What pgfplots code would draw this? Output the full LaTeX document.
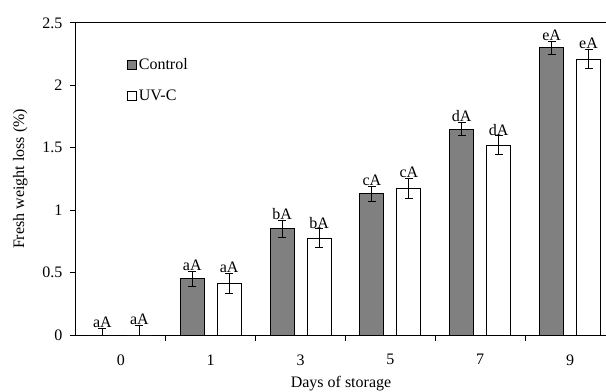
\documentclass[border=0pt]{standalone}
\usepackage{pgfplots}
\pgfplotsset{compat=1.18}
\usepackage{fontspec}
\setmainfont{Liberation Serif}
\definecolor{ctrl}{HTML}{808080}
\begin{document}
\begin{tikzpicture}
\begin{axis}[
  scale only axis, width=530bp, height=312bp,
  xmin=-0.5, xmax=5.4, ymin=0, ymax=2.5,
  axis x line=box, axis y line=left, axis line style={-, line width=1bp},
  xtick pos=bottom, ytick pos=left,
  tick align=outside,
  xtick={0,1,2,3,4,5}, xticklabels={0,1,3,5,7,9},
  minor xtick={0.5,1.5,2.5,3.5,4.5},
  major x tick style={draw=none},
  minor tick length=6bp, major tick length=6bp,
  tick style={black, line width=1bp},
  ytick={0,0.5,1,1.5,2,2.5},
  yticklabels={0,0.5,1,1.5,2,2.5},
  /pgf/number format/assume math mode=true,
  ticklabel style={font=\fontsize{16bp}{18bp}\selectfont},
  xticklabel style={yshift=-10bp},
  yticklabel style={xshift=-4bp},
  xlabel={Days of storage}, ylabel={Fresh weight loss (\%)},
  label style={font=\fontsize{16bp}{18bp}\selectfont},
  xlabel style={yshift=-4bp},
  ylabel style={yshift=8bp},
  legend style={at={(0.095,0.893)}, anchor=north west, draw=none, fill=none,
    font=\fontsize{16bp}{18bp}\selectfont, row sep=15bp, inner sep=0pt,
    legend cell align=left},
  legend image code/.code={\draw[#1, line width=0.8bp] (0bp,-4.5bp) rectangle (9bp,4.5bp);},
  every axis legend/.append style={nodes={inner xsep=2.5bp}},
]
\addplot[ybar, bar width=24bp, bar shift=0bp, fill=ctrl, draw=black, line width=1bp,
  error bars/.cd, y dir=both, y explicit,
  error bar style={black, line width=1bp},
  error mark options={rotate=90, mark size=4bp, line width=1bp}]
  coordinates {
  (-0.2056,0) +- (0,0.056)
  (0.7944,0.45) +- (0,0.06)
  (1.7944,0.85) +- (0,0.065)
  (2.7944,1.13) +- (0,0.06)
  (3.7944,1.65) +- (0,0.055)
  (4.7944,2.30) +- (0,0.055)
  };
\addlegendentry{Control}
\addplot[ybar, bar width=24bp, bar shift=0bp, fill=white, draw=black, line width=1bp,
  error bars/.cd, y dir=both, y explicit,
  error bar style={black, line width=1bp},
  error mark options={rotate=90, mark size=4bp, line width=1bp}]
  coordinates {
  (0.2056,0) +- (0,0.078)
  (1.2056,0.41) +- (0,0.08)
  (2.2056,0.775) +- (0,0.075)
  (3.2056,1.175) +- (0,0.08)
  (4.2056,1.52) +- (0,0.075)
  (5.2056,2.21) +- (0,0.075)
  };
\addlegendentry{UV-C}
\addplot[forget plot, only marks, mark=none, nodes near coords, point meta=explicit symbolic,
  nodes near coords style={anchor=south, inner sep=0.5bp, font=\fontsize{16bp}{17bp}\selectfont}]
  coordinates {
  (-0.2056,0.056) [aA]
  (0.7944,0.51) [aA]
  (1.7944,0.915) [bA]
  (2.7944,1.19) [cA]
  (3.7944,1.705) [dA]
  (4.7944,2.355) [eA]
  (0.2056,0.078) [aA]
  (1.2056,0.49) [aA]
  (2.2056,0.85) [bA]
  (3.2056,1.255) [cA]
  (4.2056,1.595) [dA]
  (5.2056,2.285) [eA]
  };
\coordinate (O) at (rel axis cs:0,0);
\end{axis}
\pgfresetboundingbox
\path[use as bounding box] (O) ++(-76bp,-57bp) rectangle ++(606bp,392bp);
\end{tikzpicture}
\end{document}
